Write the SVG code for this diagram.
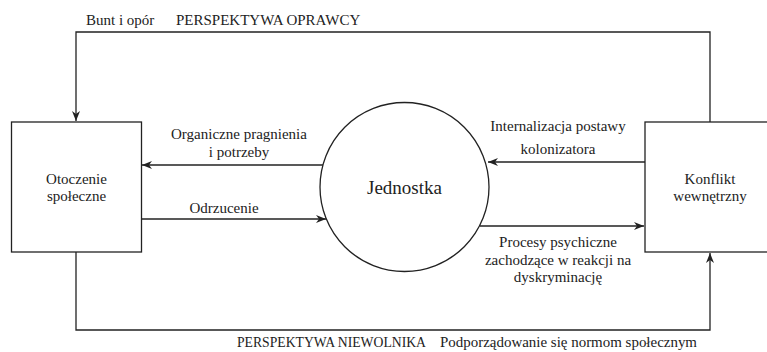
<svg xmlns="http://www.w3.org/2000/svg" width="767" height="352" viewBox="0 0 767 352">
<style>
  .shape { fill: #ffffff; stroke: #222222; stroke-width: 1.3; }
  .edge { fill: none; stroke: #222222; stroke-width: 1.3; }
  text { font-family: "Liberation Serif", "Times New Roman", serif; font-size: 15px; fill: #222222; }
  .mid { text-anchor: middle; }
  .big { font-size: 19px; }
</style>
<defs>
  <marker id="arrow" viewBox="0 0 10 8" refX="10" refY="4" markerWidth="10" markerHeight="8" markerUnits="userSpaceOnUse" orient="auto">
    <path d="M0,0 L10,4 L0,8 L3,4 z" fill="#222222"/>
  </marker>
</defs>
<rect width="767" height="352" fill="#ffffff"/>

<g id="connectors">
  <path class="edge" d="M710,122 V32 H76 V121" marker-end="url(#arrow)"/>
  <path class="edge" d="M76,252 V330 H710 V253" marker-end="url(#arrow)"/>
  <path class="edge" d="M323,165 H142" marker-end="url(#arrow)"/>
  <path class="edge" d="M141,219 H326" marker-end="url(#arrow)"/>
  <path class="edge" d="M645,162 H488" marker-end="url(#arrow)"/>
  <path class="edge" d="M480,226 H644" marker-end="url(#arrow)"/>
  <text x="86" y="25">Bunt i opór</text>
  <text x="176" y="25">PERSPEKTYWA OPRAWCY</text>
  <text class="mid" x="239" y="139">Organiczne pragnienia</text>
  <text class="mid" x="239" y="157">i potrzeby</text>
  <text class="mid" x="224" y="213">Odrzucenie</text>
  <text class="mid" x="558" y="131">Internalizacja postawy</text>
  <text class="mid" x="558" y="154">kolonizatora</text>
  <text class="mid" x="558" y="247">Procesy psychiczne</text>
  <text class="mid" x="558" y="265">zachodzące w reakcji na</text>
  <text class="mid" x="558" y="282">dyskryminację</text>
  <text x="237" y="347" textLength="189" lengthAdjust="spacingAndGlyphs">PERSPEKTYWA NIEWOLNIKA</text>
  <text x="440" y="347" textLength="257" lengthAdjust="spacingAndGlyphs">Podporządowanie się normom społecznym</text>
</g>

<g id="otoczenie">
  <rect class="shape" x="11.5" y="122" width="130" height="130"/>
  <text class="mid" x="76.5" y="184">Otoczenie</text>
  <text class="mid" x="76.5" y="201">społeczne</text>
</g>

<g id="jednostka">
  <circle class="shape" cx="404.5" cy="187" r="84.5"/>
  <text class="mid big" x="404.5" y="194">Jednostka</text>
</g>

<g id="konflikt">
  <rect class="shape" x="645" y="122" width="130" height="130"/>
  <text class="mid" x="710" y="184">Konflikt</text>
  <text class="mid" x="710" y="201">wewnętrzny</text>
</g>
</svg>
